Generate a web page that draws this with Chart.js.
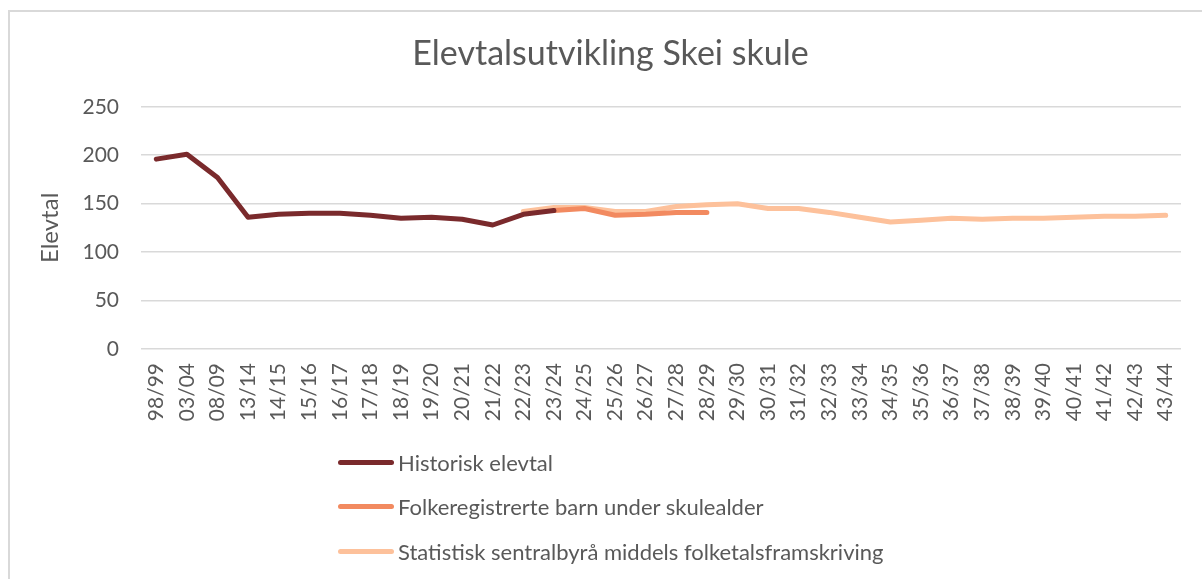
<!DOCTYPE html>
<html>
<head>
<meta charset="utf-8">
<script src="https://cdn.jsdelivr.net/npm/chart.js@4"></script>
<style>
  html, body { margin: 0; padding: 0; background: #fff; }
  #wrap { position: relative; width: 1202px; height: 579px; overflow: hidden; }
  #frame { position: absolute; left: 8px; top: 10px; width: 1300px; height: 700px;
           border: 2px solid #d9d9d9; box-sizing: border-box; }
  #chart { position: absolute; left: 0; top: 0; }
  #legend { position: absolute; left: 338px; top: 440px; font-family: Lato, sans-serif;
            font-size: 22px; color: #595959; }
  .item { display: flex; align-items: center; height: 44.5px; }
  .swatch { width: 56px; height: 5px; border-radius: 3px; margin-right: 4px; }
</style>
</head>
<body>
<div id="wrap">
  <div id="frame"></div>
  <canvas id="chart" width="1202" height="579"></canvas>
  <div id="legend"></div>
</div>
<script>
const labels = ['98/99', '03/04', '08/09', '13/14', '14/15', '15/16', '16/17', '17/18', '18/19',
  '19/20', '20/21', '21/22', '22/23', '23/24', '24/25', '25/26', '26/27', '27/28', '28/29',
  '29/30', '30/31', '31/32', '32/33', '33/34', '34/35', '35/36', '36/37', '37/38', '38/39',
  '39/40', '40/41', '41/42', '42/43', '43/44'];

const historisk = [196, 201, 177, 136, 139, 140, 140, 138, 135, 136, 134, 128, 139, 143];

const folkeregistrerte = [null, null, null, null, null, null, null, null, null, null, null, null,
  null, 143, 145, 138, 139, 141, 141];

const ssbFramskriving = [null, null, null, null, null, null, null, null, null, null, null, null,
  142, 146, 146, 142, 142, 147, 149, 150, 145, 145, 141, 136, 131, 133, 135, 134, 135,
  135, 136, 137, 137, 138];

const colors = ['#7a2a2c', '#f28a60', '#fdc19b'];
const grey = '#595959';

const chart = new Chart(document.getElementById('chart'), {
  type: 'line',
  data: {
    labels: labels,
    datasets: [
      { label: 'Historisk elevtal', data: historisk, borderColor: colors[0] },
      { label: 'Folkeregistrerte barn under skulealder', data: folkeregistrerte, borderColor: colors[1] },
      { label: 'Statistisk sentralbyrå middels folketalsframskriving', data: ssbFramskriving, borderColor: colors[2] },
    ],
  },
  options: {
    responsive: false,
    animation: false,
    elements: {
      line: { borderWidth: 5, tension: 0, borderCapStyle: 'round', borderJoinStyle: 'round' },
      point: { radius: 0 },
    },
    layout: { padding: { left: 40, right: 21, top: 0, bottom: 0 } },
    plugins: {
      legend: { display: false },
      tooltip: { enabled: false },
      title: {
        display: true,
        text: 'Elevtalsutvikling Skei skule',
        color: grey,
        font: { family: 'Lato', size: 34, weight: 'normal' },
        padding: { top: 34, bottom: 32 },
      },
    },
    scales: {
      x: {
        offset: true,
        grid: { display: false },
        border: { display: false },
        ticks: {
          color: grey,
          font: { family: 'Lato', size: 21 },
          minRotation: 90,
          maxRotation: 90,
          autoSkip: false,
          padding: 6,
        },
        afterFit: (scale) => { scale.height = 230; },
      },
      y: {
        min: 0,
        max: 250,
        grid: { color: '#d9d9d9', lineWidth: 1.5, drawTicks: false },
        border: { display: false },
        ticks: {
          stepSize: 50,
          color: grey,
          font: { family: 'Lato', size: 21 },
          padding: 22,
        },
        title: {
          display: true,
          text: 'Elevtal',
          color: grey,
          font: { family: 'Lato', size: 24 },
          padding: { top: -4, bottom: 0 },
        },
        afterFit: (scale) => { scale.width = 101; },
      },
    },
  },
});

// vertical legend built from the datasets
const legend = document.getElementById('legend');
chart.data.datasets.forEach((ds) => {
  const item = document.createElement('div');
  item.className = 'item';
  const sw = document.createElement('span');
  sw.className = 'swatch';
  sw.style.background = ds.borderColor;
  const txt = document.createElement('span');
  txt.textContent = ds.label;
  item.appendChild(sw);
  item.appendChild(txt);
  legend.appendChild(item);
});
</script>
</body>
</html>
